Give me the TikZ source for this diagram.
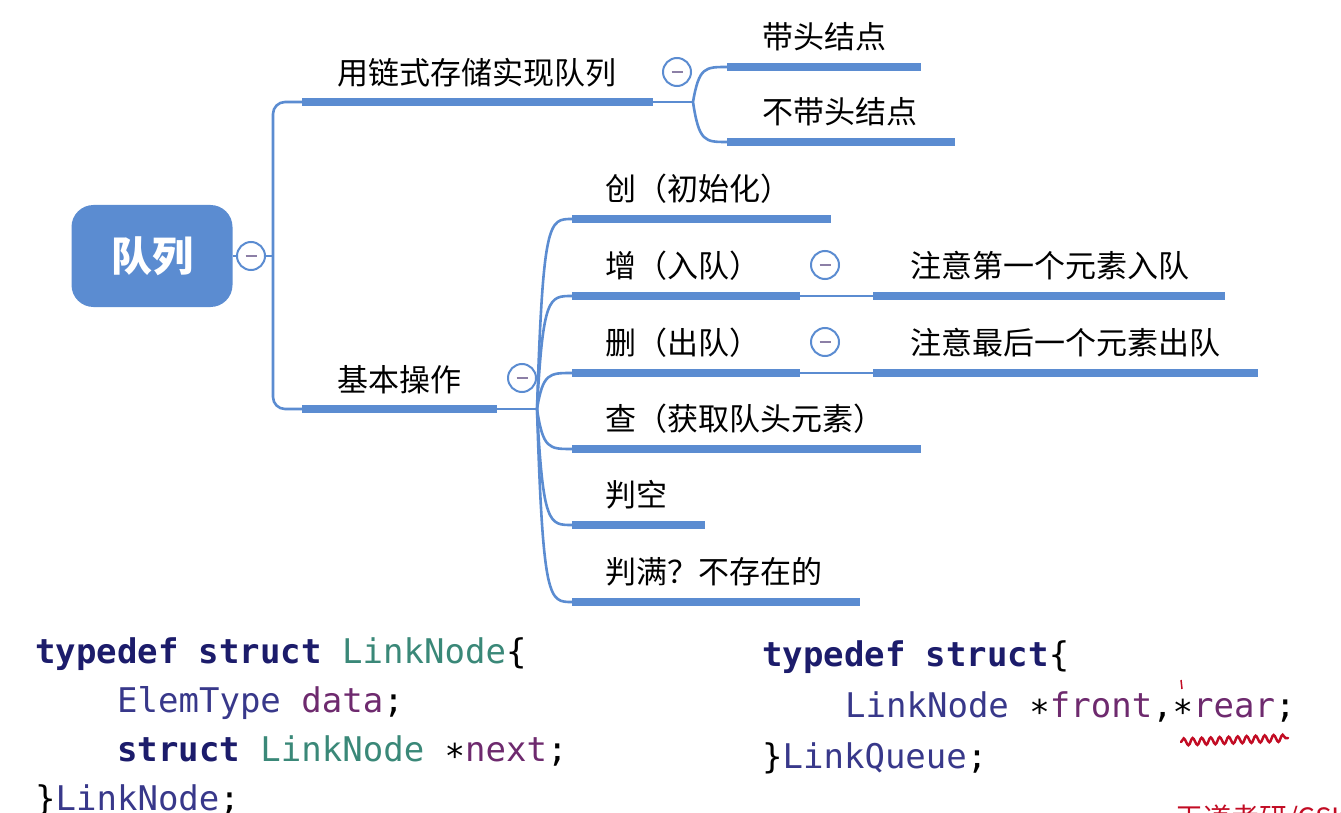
\documentclass[tikz,border=0pt]{standalone}
\usepackage{fontspec}
\setmainfont{Noto Sans CJK SC}
\newfontfamily\codefont{DejaVu Sans Mono}
\usetikzlibrary{calc,decorations.pathmorphing}

\definecolor{mapblue}{HTML}{5B8CD1}
\definecolor{minusgray}{HTML}{8C7FA6}
\definecolor{kwblue}{HTML}{1C1C6B}
\definecolor{typeteal}{HTML}{3A8878}
\definecolor{typeblue}{HTML}{38388A}
\definecolor{varpurple}{HTML}{6E2A6E}
\definecolor{inkred}{HTML}{C20C24}

\tikzset{
  bar/.style={mapblue, line width=7.5pt},
  link/.style={mapblue, line width=2.6pt},
  fold/.style={circle, draw=mapblue, line width=2pt, fill=white,
    minimum size=28pt, inner sep=0pt,
    path picture={\draw[minusgray, line width=2.2pt]
      ([xshift=-5.5pt]path picture bounding box.center) --
      ([xshift=5.5pt]path picture bounding box.center);}},
  topic/.style={anchor=west, inner sep=0pt, font=\fontsize{31}{36}\selectfont},
  code/.style={anchor=base west, inner sep=0pt, font=\codefont\fontsize{34}{40}\selectfont},
}

\begin{document}
\begin{tikzpicture}[x=1pt,y=-1pt]
    \useasboundingbox (0,0) rectangle (1341,813);
    \clip (0,0) rectangle (1341,813);

    % root
    \node[fill=mapblue, rounded corners=22pt, minimum width=161pt, minimum height=102pt,
      text=white, font=\fontsize{41}{48}\selectfont\bfseries] (root) at (152,256) {队列};
    \node[fold] (f0) at (251,256) {};
    \coordinate (trunk) at (273,256);
    \draw[link] (root.east) -- (f0.west);
    \draw[link] (f0.east) -- (trunk);

    % two main branches
    \coordinate (lsS) at (302,102);
    \coordinate (lsE) at (653,102);
    \coordinate (lsJ) at (693,102);
    \coordinate (bsS) at (302,409);
    \coordinate (bsE) at (497,409);
    \coordinate (bsJ) at (537,409);
    \draw[link, rounded corners=12pt] (lsS) -| (trunk) |- (bsS);
    \draw[bar] (lsS) -- (lsE);
    \draw[bar] (bsS) -- (bsE);
    \draw[link] (lsE) -- (lsJ);
    \draw[link] (bsE) -- (bsJ);
    \node[topic] (ls) at (337,73) {用链式存储实现队列};
    \node[topic] (bs) at (337,380) {基本操作};
    \node[fold] (f1) at (677,72) {};
    \node[fold] (f2) at (522,378) {};

    % head node or not
    \foreach \n/\y/\xe/\txt in {hd/67/921/带头结点, nh/142/955/不带头结点}{
      \coordinate (\n S) at (727,\y);
      \coordinate (\n E) at (\xe,\y);
      \draw[bar] (\n S) -- (\n E);
      \draw[link] (lsJ) .. controls (699,\y) and (705,\y) .. (\n S);
      \node[topic] (\n) at (762,\y-30) {\txt};
    }

    % basic operations
    \foreach \n/\y/\xe/\txt in {a/219/831/创（初始化）, b/296/800/增（入队）,
        c/373/800/删（出队）, d/449/921/查（获取队头元素）,
        e/525/705/判空, f/602/860/判满？不存在的}{
      \coordinate (op\n S) at (572,\y);
      \coordinate (op\n E) at (\xe,\y);
      \draw[bar] (op\n S) -- (op\n E);
      \draw[link] (bsJ) .. controls (543,\y) and (549,\y) .. (op\n S);
      \node[topic] (op\n) at (605,\y-30) {\txt};
    }

    % notes on enqueue / dequeue
    \foreach \n/\y/\xe/\txt in {b/296/1225/注意第一个元素入队, c/373/1258/注意最后一个元素出队}{
      \coordinate (nt\n S) at (873,\y);
      \coordinate (nt\n E) at (\xe,\y);
      \draw[link] (op\n E) -- (nt\n S);
      \draw[bar] (nt\n S) -- (nt\n E);
      \node[topic] (nt\n) at (910,\y-30) {\txt};
      \node[fold] (g\n) at (825,\y-31) {};
    }

    % code
    \node[code] (ln1) at (35,663) {{\bfseries\color{kwblue}typedef struct} \textcolor{typeteal}{LinkNode}\{};
    \node[code] (ln2) at (117,712) {\textcolor{typeblue}{ElemType} \textcolor{varpurple}{data};};
    \node[code] (ln3) at (117,761) {{\bfseries\color{kwblue}struct} \textcolor{typeteal}{LinkNode} ∗\textcolor{varpurple}{next};};
    \node[code] (ln4) at (35,810) {\}\textcolor{typeblue}{LinkNode};};

    \node[code] (lq1) at (762,666) {{\bfseries\color{kwblue}typedef struct}\{};
    \node[code] (lq2) at (845,717) {\textcolor{typeblue}{LinkNode} ∗\textcolor{varpurple}{front},∗\textcolor{varpurple}{rear};};
    \node[code] (lq3) at (762,768) {\}\textcolor{typeblue}{LinkQueue};};

    % pen marks
    \draw[inkred, line width=2.5pt, line cap=round, decorate,
      decoration={snake, amplitude=3.5pt, segment length=9pt}]
      (1181,742) -- (1288,738);
    \draw[inkred, line width=1.5pt] (1181,680) -- (1182,689);
    \node[anchor=north west, inner sep=0pt, text=inkred, font=\fontsize{28}{32}\selectfont]
      (wm) at (1175,805) {王道考研/CSKAOYAN.COM};
\end{tikzpicture}
\end{document}
